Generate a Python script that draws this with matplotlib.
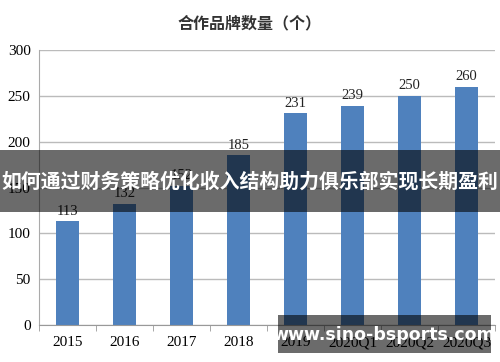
import matplotlib.pyplot as plt
from matplotlib.patches import Rectangle

# data
years = ['2015', '2016', '2017', '2018', '2019', '2020Q1', '2020Q2', '2020Q3']
brands = [113, 132, 152, 185, 231, 239, 250, 260]
yticks = [0, 50, 100, 150, 200, 250, 300]

title = '合作品牌数量（个）'
banner = '如何通过财务策略优化收入结构助力俱乐部实现长期盈利'
site = 'www.sino-bsports.com'

plt.rcParams['font.family'] = ['Liberation Serif', 'Noto Sans CJK SC']

fig = plt.figure(figsize=(5, 3.62), dpi=100)
ax = fig.add_axes([0.078, 0.102, 0.912, 0.76])

x = range(len(years))
ax.bar(x, brands, width=0.41, color='#4F81BD', zorder=2)
for i, v in enumerate(brands):
    ax.text(i, v + 4, str(v), ha='center', va='bottom', fontsize=10.5, color='#222222')

ax.set_xlim(-0.5, len(years) - 0.5)
ax.set_ylim(0, 300)
ax.set_yticks(yticks)
ax.set_yticklabels([str(t) for t in yticks], fontsize=11)
ax.set_xticks(list(x))
ax.set_xticklabels(years, fontsize=11)
ax.tick_params(axis='x', length=0, pad=8)
ax.tick_params(axis='y', length=0, pad=6)
# category boundary ticks like in Excel
ax.set_xticks([i - 0.5 for i in range(len(years) + 1)], minor=True)
ax.tick_params(axis='x', which='minor', length=4, color='#999999')
ax.grid(axis='y', color='#BBBBBB', linewidth=1, zorder=0)
for s in ['top', 'right']:
    ax.spines[s].set_visible(False)
ax.spines['left'].set_color('#AAAAAA')
ax.spines['bottom'].set_color('#999999')

fig.text(0.5, 0.935, title, ha='center', va='center', fontsize=11.5, fontweight='bold',
         family=['Noto Sans CJK SC'], color='#333333')

# overlay banner across the middle
fig.patches.append(Rectangle((0, 1 - 212 / 362), 1, 62 / 362, transform=fig.transFigure,
                             facecolor='black', alpha=0.58, zorder=10))
fig.text(0.5, 1 - 181 / 362, banner, ha='center', va='center', fontsize=14.3, fontweight='bold',
         family=['Noto Sans CJK SC'], color='white', zorder=11)

# watermark box at the bottom right
fig.patches.append(Rectangle((278 / 500, 1 - 353 / 362), 213 / 500, 38 / 362, transform=fig.transFigure,
                             facecolor='black', alpha=0.58, zorder=10))
fig.text(384 / 500, 1 - 335 / 362, site, ha='center', va='center', fontsize=12.5, fontweight='bold',
         family=['DejaVu Sans'], color='white', zorder=11)

fig.savefig('out.png', dpi=100)
